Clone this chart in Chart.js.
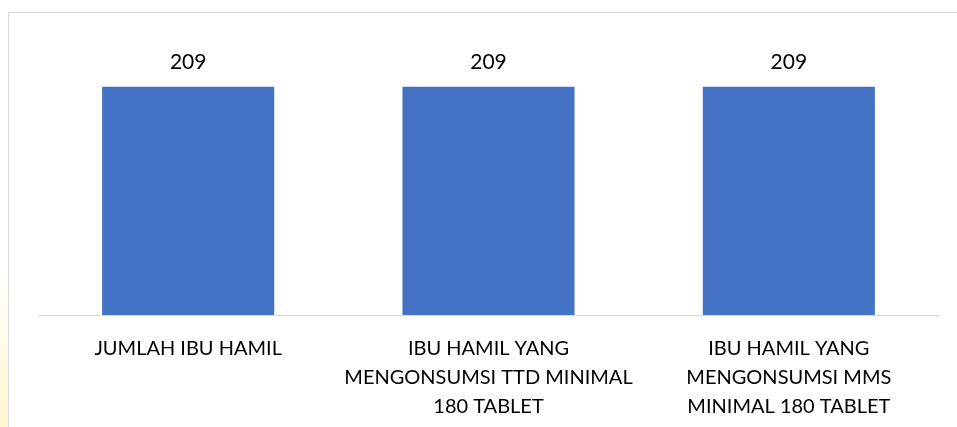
<!DOCTYPE html>
<html>
<head>
<meta charset="utf-8">
<script src="https://cdn.jsdelivr.net/npm/chart.js@4"></script>
<style>
    html, body { margin: 0; padding: 0; }
    body {
        width: 957px; height: 427px; overflow: hidden; position: relative;
        background: linear-gradient(to bottom, #fff 0px, #fff 270px, #fdf5cf 427px);
    }
    #box {
        position: absolute; left: 8px; top: 12px; width: 960px; height: 430px;
        border: 1px solid #d9d9d9; background: #fff;
    }
    #wrap { position: absolute; left: 0; top: 0; width: 948px; height: 414px; }
</style>
</head>
<body>
<div id="box">
    <div id="wrap"><canvas id="barChartCanvas"></canvas></div>
</div>
<script>
// data
const categories = [
    ["JUMLAH IBU HAMIL"],
    ["IBU HAMIL YANG", "MENGONSUMSI TTD MINIMAL", "180 TABLET"],
    ["IBU HAMIL YANG", "MENGONSUMSI MMS", "MINIMAL 180 TABLET"]
];
const values = [209, 209, 209];
const yMax = 250;

const fontFamily = "Lato, 'Open Sans', sans-serif";

// label angka di atas bar
const valueLabels = {
    id: "valueLabels",
    afterDatasetsDraw(chart) {
        const ctx = chart.ctx;
        const meta = chart.getDatasetMeta(0);
        ctx.save();
        ctx.font = "21px " + fontFamily;
        ctx.fillStyle = "#000";
        ctx.textAlign = "center";
        ctx.textBaseline = "middle";
        meta.data.forEach((bar, i) => {
            ctx.fillText(String(values[i]), bar.x, bar.y - 25);
        });
        ctx.restore();
    }
};

const ctx = document.getElementById("barChartCanvas").getContext("2d");
new Chart(ctx, {
    type: "bar",
    data: {
        labels: categories,
        datasets: [
            {
                data: values,
                backgroundColor: "#4472C4",
                categoryPercentage: 1,
                barPercentage: 0.573,
            }
        ],
    },
    options: {
        responsive: true,
        maintainAspectRatio: false,
        animation: false,
        layout: { padding: { left: 29, right: 18, top: 29, bottom: -5 } },
        scales: {
            x: {
                grid: { display: false },
                border: { display: true, color: "#d9d9d9", width: 1 },
                ticks: {
                    color: "#000",
                    padding: 11,
                    maxRotation: 0,
                    autoSkip: false,
                    font: { family: fontFamily, size: 20, lineHeight: 1.45 },
                },
            },
            y: {
                display: false,
                min: 0,
                max: yMax,
            },
        },
        plugins: {
            legend: { display: false },
            tooltip: { enabled: false },
        },
    },
    plugins: [valueLabels],
});
</script>
</body>
</html>
